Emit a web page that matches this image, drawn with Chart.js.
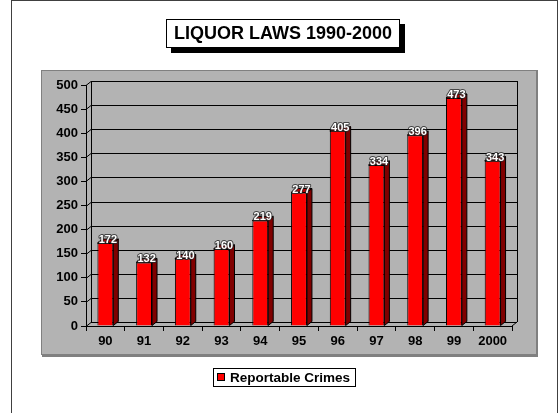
<!DOCTYPE html>
<html>
<head>
<meta charset="utf-8">
<script src="https://cdn.jsdelivr.net/npm/chart.js@4.4.1/dist/chart.umd.min.js"></script>
<style>
html,body{margin:0;padding:0;background:#fff;}
#wrap{width:560px;height:413px;}
</style>
</head>
<body>
<div id="wrap"><canvas id="c" width="560" height="413"></canvas></div>
<script>
const categories = ['90','91','92','93','94','95','96','97','98','99','2000'];
const crimes = [172,132,140,160,219,277,405,334,396,473,343];
const yTicks = [0,50,100,150,200,250,300,350,400,450,500];
const chartTitle = 'LIQUOR LAWS 1990-2000';
const seriesName = 'Reportable Crimes';

const FONT = '"Liberation Sans", Arial, Helvetica, sans-serif';
const DX = 5, DY = 4;

const decor = {
  id: 'decor',
  beforeDraw(chart) {
    const ctx = chart.ctx;
    const x = chart.scales.x, y = chart.scales.y;
    const L = x.left, R = x.right, T = y.top, B = y.bottom;
    ctx.save();
    ctx.fillStyle = '#fff';
    ctx.fillRect(0, 0, chart.width, chart.height);
    // outer frame
    ctx.strokeStyle = '#404040';
    ctx.lineWidth = 1;
    ctx.strokeRect(11.5, 0.5, 546, 430);
    // gray panel
    ctx.fillStyle = '#B3B3B3';
    ctx.fillRect(42, 70, 495, 285);
    ctx.strokeStyle = '#808080';
    ctx.strokeRect(41.5, 70.5, 495, 284);
    ctx.lineWidth = 2;
    ctx.beginPath();
    ctx.moveTo(537, 70); ctx.lineTo(537, 356); ctx.lineTo(42, 356);
    ctx.stroke();
    ctx.lineWidth = 1;

    // title box with shadow
    ctx.fillStyle = '#000';
    ctx.fillRect(171, 24, 234, 29);
    ctx.fillStyle = '#fff';
    ctx.fillRect(166, 19, 234, 29);
    ctx.strokeStyle = '#000';
    ctx.strokeRect(166.5, 19.5, 233, 28);
    ctx.fillStyle = '#000';
    ctx.font = 'bold 18px ' + FONT;
    ctx.textAlign = 'center';
    ctx.textBaseline = 'middle';
    ctx.fillText(chartTitle, 283, 34.5);

    // legend box
    ctx.fillStyle = '#fff';
    ctx.fillRect(213, 368, 143, 19);
    ctx.strokeStyle = '#000';
    ctx.strokeRect(213.5, 368.5, 142, 18);
    ctx.fillStyle = '#FF0000';
    ctx.fillRect(217, 373, 8, 8);
    ctx.strokeRect(217.5, 373.5, 7, 7);
    ctx.fillStyle = '#000';
    ctx.font = 'bold 13.5px ' + FONT;
    ctx.textAlign = 'left';
    ctx.fillText(seriesName, 230, 378);

    // 3D walls: gridlines on back wall and left wall
    ctx.strokeStyle = '#000';
    ctx.lineWidth = 1;
    const r = v => Math.round(v) + 0.5;
    yTicks.forEach(v => {
      const py = y.getPixelForValue(v);
      ctx.beginPath();
      ctx.moveTo(L, r(py));
      ctx.lineTo(L + DX, r(py - DY));
      ctx.lineTo(R + DX, r(py - DY));
      ctx.stroke();
    });
    ctx.beginPath();
    ctx.moveTo(r(L + DX), T - DY);
    ctx.lineTo(r(L + DX), B - DY);
    ctx.moveTo(r(R + DX), T - DY);
    ctx.lineTo(r(R + DX), B - DY);
    ctx.moveTo(R, B);
    ctx.lineTo(R + DX, B - DY);
    ctx.stroke();
    ctx.restore();
  },
  afterDatasetsDraw(chart) {
    const ctx = chart.ctx;
    const meta = chart.getDatasetMeta(0);
    ctx.save();
    ctx.strokeStyle = '#000';
    ctx.lineWidth = 1;
    meta.data.forEach((bar, i) => {
      const w = bar.width;
      const l = bar.x - w / 2, rr = bar.x + w / 2;
      const t = bar.y, b = bar.base;
      ctx.fillStyle = '#800000';
      ctx.beginPath();
      ctx.moveTo(rr, t); ctx.lineTo(rr + DX, t - DY);
      ctx.lineTo(rr + DX, b - DY); ctx.lineTo(rr, b);
      ctx.closePath(); ctx.fill(); ctx.stroke();
      ctx.fillStyle = '#C00000';
      ctx.beginPath();
      ctx.moveTo(l, t); ctx.lineTo(l + DX, t - DY);
      ctx.lineTo(rr + DX, t - DY); ctx.lineTo(rr, t);
      ctx.closePath(); ctx.fill(); ctx.stroke();
    });
    ctx.font = 'bold 11px ' + FONT;
    ctx.textAlign = 'center';
    ctx.textBaseline = 'middle';
    ctx.lineJoin = 'round';
    meta.data.forEach((bar, i) => {
      const tx = bar.x + 2.5, ty = bar.y - 3;
      const s = String(crimes[i]);
      ctx.strokeStyle = 'rgba(40,40,40,0.8)';
      ctx.lineWidth = 2;
      ctx.strokeText(s, tx, ty);
      ctx.fillStyle = '#fff';
      ctx.fillText(s, tx, ty);
    });
    ctx.restore();
  }
};

new Chart(document.getElementById('c'), {
  type: 'bar',
  data: {
    labels: categories,
    datasets: [{
      label: seriesName,
      data: crimes,
      backgroundColor: '#FF0000',
      borderColor: '#000',
      borderWidth: 1,
      categoryPercentage: 1,
      barPercentage: 0.41
    }]
  },
  options: {
    responsive: false,
    animation: false,
    devicePixelRatio: 1,
    layout: { padding: { left: 0, right: 48, top: 85, bottom: 57 } },
    plugins: {
      legend: { display: false },
      title: { display: false },
      tooltip: { enabled: false }
    },
    scales: {
      x: {
        offset: true,
        grid: { display: true, drawOnChartArea: false, offset: true, tickLength: 5, color: '#000' },
        border: { display: true, color: '#000' },
        ticks: { color: '#000', font: { family: FONT, size: 13, weight: 'bold' }, padding: 3 },
        afterFit(s) { s.height = 30; }
      },
      y: {
        min: 0, max: 500,
        afterBuildTicks(s) { s.ticks = yTicks.map(v => ({ value: v })); },
        grid: { display: true, drawOnChartArea: false, tickLength: 5, color: '#000' },
        border: { display: true, color: '#000' },
        ticks: { color: '#000', font: { family: FONT, size: 13, weight: 'bold' }, padding: 3 },
        afterFit(s) { s.width = 86; }
      }
    }
  },
  plugins: [decor]
});
</script>
</body>
</html>
